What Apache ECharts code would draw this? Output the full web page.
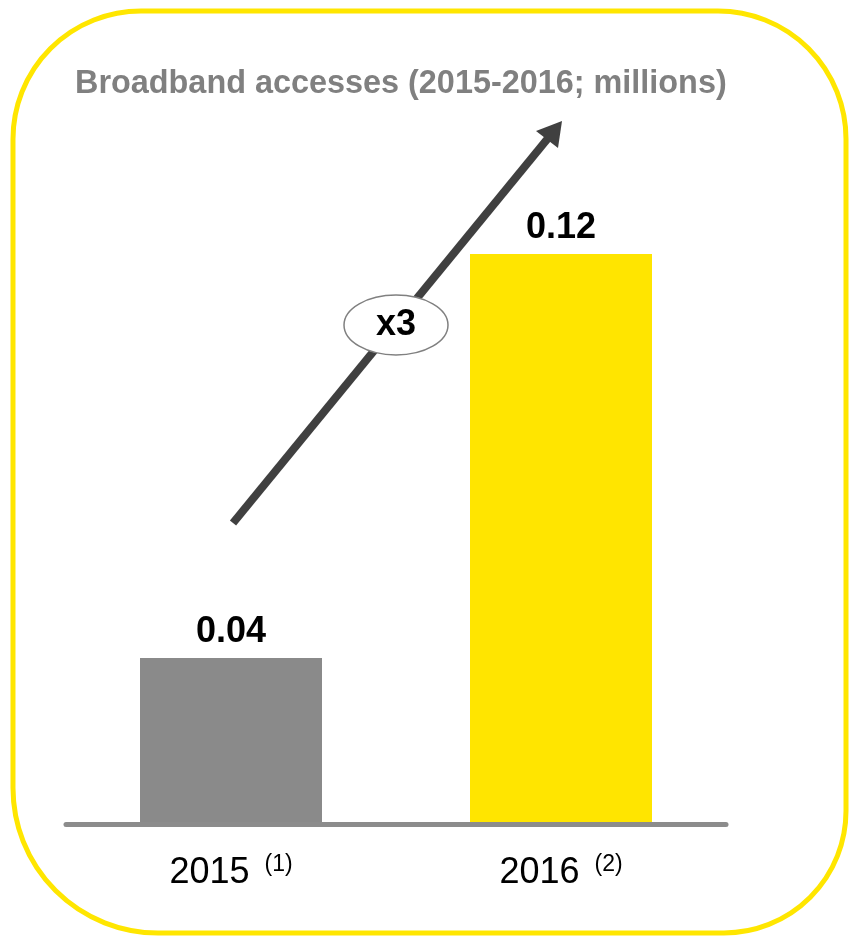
<!DOCTYPE html>
<html>
<head>
<meta charset="utf-8">
<title>Broadband accesses</title>
<script src="https://cdn.jsdelivr.net/npm/echarts@6/dist/echarts.min.js"></script>
<style>
  html, body { margin: 0; padding: 0; background: #ffffff; }
  #chart { width: 849px; height: 936px; }
</style>
</head>
<body>
<div id="chart"></div>
<script>
// Broadband accesses, millions
const years = ['2015', '2016'];
const footnotes = ['(1)', '(2)'];
const accesses = [0.04, 0.12];
const barColors = ['#8a8a8a', '#ffe500'];
const growthLabel = 'x3';

const FONT = '"Liberation Sans", Arial, Helvetica, sans-serif';

const chart = echarts.init(document.getElementById('chart'), null, { renderer: 'canvas' });

const option = {
  backgroundColor: '#ffffff',
  animation: false,
  title: {
    text: 'Broadband accesses (2015-2016; millions)',
    left: 75,
    top: 68,
    padding: 0,
    textStyle: { fontFamily: FONT, fontSize: 32.4, fontWeight: 'bold', color: '#808080' }
  },
  grid: { left: 66, right: 123, top: 153, bottom: 111.5, containLabel: false },
  xAxis: {
    type: 'category',
    data: years,
    z: 3,
    axisLine: { show: true, lineStyle: { color: '#8c8c8c', width: 5 } },
    axisTick: { show: false },
    axisLabel: {
      margin: 29,
      formatter: function (value, idx) {
        return '{y|' + value + '}{s|' + footnotes[idx] + '}';
      },
      rich: {
        y: { fontFamily: FONT, fontSize: 36, color: '#000000', lineHeight: 40 },
        s: { fontFamily: FONT, fontSize: 23, color: '#000000', verticalAlign: 'top', lineHeight: 40, padding: [0, 0, 14, 15] }
      }
    }
  },
  yAxis: {
    type: 'value',
    min: 0.007,
    max: 0.14,
    show: false,
    splitLine: { show: false }
  },
  series: [{
    type: 'bar',
    barWidth: 182,
    data: accesses.map((v, i) => ({ value: v, itemStyle: { color: barColors[i] } })),
    label: {
      show: true,
      position: 'top',
      distance: 8,
      fontFamily: FONT,
      fontSize: 36,
      fontWeight: 'bold',
      color: '#000000',
      formatter: p => p.value.toFixed(2)
    }
  }],
  graphic: [
    // rounded frame
    {
      type: 'rect',
      z: 10,
      silent: true,
      shape: { x: 13, y: 11, width: 833, height: 922, r: [128, 128, 122, 145] },
      style: { fill: 'none', stroke: '#ffe600', lineWidth: 5 }
    },
    // growth arrow shaft
    {
      type: 'line',
      z: 20,
      shape: { x1: 233, y1: 523, x2: 549, y2: 137 },
      style: { stroke: '#404040', lineWidth: 8, lineCap: 'butt' }
    },
    // growth arrow head
    {
      type: 'polygon',
      z: 21,
      shape: { points: [[562, 121], [536, 131], [558, 148]] },
      style: { fill: '#404040' }
    },
    // growth multiplier badge
    {
      type: 'ellipse',
      z: 22,
      shape: { cx: 396, cy: 325, rx: 52, ry: 30 },
      style: { fill: '#ffffff', stroke: '#808080', lineWidth: 1.5 }
    },
    {
      type: 'text',
      z: 23,
      x: 396,
      y: 325,
      style: {
        text: growthLabel,
        fontFamily: FONT,
        fontSize: 36,
        fontWeight: 'bold',
        fill: '#000000',
        align: 'center',
        verticalAlign: 'middle'
      }
    }
  ]
};

chart.setOption(option);
</script>
</body>
</html>
